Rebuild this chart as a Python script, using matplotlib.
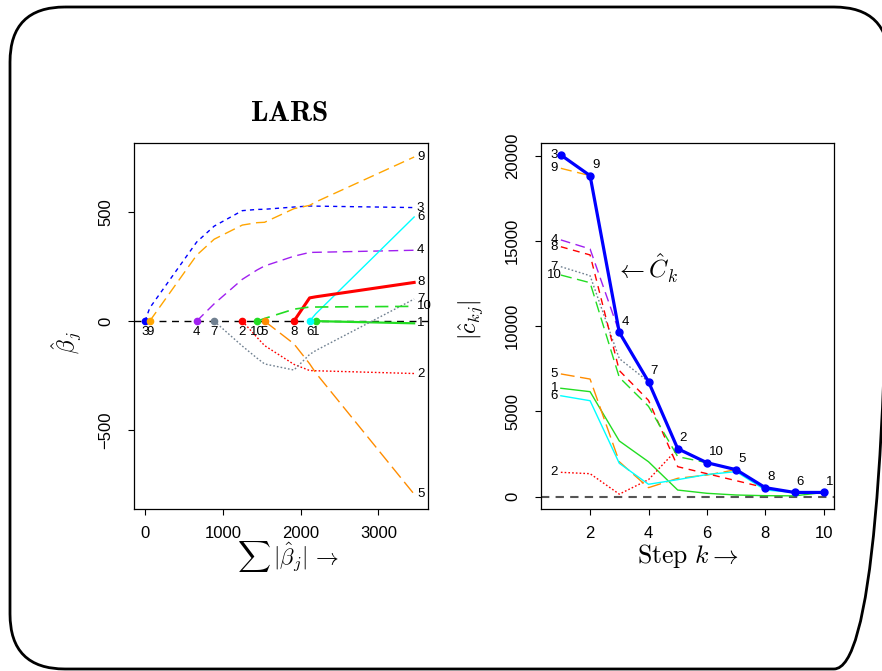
import matplotlib
matplotlib.use("Agg")
import matplotlib.pyplot as plt
import matplotlib.patches as mpatches
import numpy as np

plt.rcParams['font.family'] = ['Liberation Sans', 'DejaVu Sans']
plt.rcParams['mathtext.fontset'] = 'cm'

# ---- left panel: LARS coefficient paths (diabetes data) ----
l1_norm = [0, 60.1, 663.7, 888.9, 1250.7, 1440.8, 1537.1, 1914.6, 2115.8, 2195.6, 3460.0]
beta_1 = [0, 0, 0, 0, 0, 0, 0, 0, 0, 0, -10.0]
beta_2 = [0, 0, 0, 0, 0, -74.9, -112.0, -197.8, -226.1, -227.2, -239.8]
beta_3 = [0, 60.1, 361.9, 434.8, 505.7, 511.3, 512.0, 522.3, 526.9, 526.4, 519.8]
beta_4 = [0, 0, 0, 79.2, 191.3, 234.2, 252.5, 297.2, 314.4, 315.0, 324.4]
beta_5 = [0, 0, 0, 0, 0, 0, 0, -104.0, -195.1, -237.3, -792.2]
beta_6 = [0, 0, 0, 0, 0, 0, 0, 0, 0, 33.6, 476.7]
beta_7 = [0, 0, 0, 0, -114.1, -169.7, -196.0, -223.9, -152.5, -134.6, 101.0]
beta_8 = [0, 0, 0, 0, 0, 0, 0, 0, 106.3, 111.4, 177.1]
beta_9 = [0, 0, 301.8, 374.9, 439.7, 450.7, 452.4, 514.8, 529.9, 545.5, 751.3]
beta_10 = [0, 0, 0, 0, 0, 0, 12.1, 54.8, 64.5, 64.6, 67.6]

# ---- right panel: absolute current correlations |c_kj| ----
steps = [1, 2, 3, 4, 5, 6, 7, 8, 9, 10]
c_hat = [20040, 18830, 9640, 6745, 2815, 1994, 1584, 528, 250, 250]
corr_1 = [6360, 6160, 3270, 2050, 390, 200, 100, 60, 50, 250]
corr_2 = [1430, 1350, 150, 1000, 2815, 1994, 1584, 528, 250, 250]
corr_3 = [20040, 18830, 9640, 6745, 2815, 1994, 1584, 528, 250, 250]
corr_4 = [15060, 14530, 9640, 6745, 2815, 1994, 1584, 528, 250, 250]
corr_5 = [7200, 6900, 2050, 530, 1080, 1270, 1584, 528, 250, 250]
corr_6 = [5920, 5630, 1960, 730, 1000, 1300, 1470, 390, 250, 250]
corr_7 = [13490, 12960, 8100, 6745, 2815, 1994, 1584, 528, 250, 250]
corr_8 = [14660, 14180, 7400, 5650, 1760, 1350, 940, 528, 250, 250]
corr_9 = [19260, 18830, 9640, 6745, 2815, 1994, 1584, 528, 250, 250]
corr_10 = [13000, 12550, 7000, 5300, 2350, 1994, 1584, 528, 250, 250]
entry_order = [3, 9, 4, 7, 2, 10, 5, 8, 6, 1]

betas = [beta_1, beta_2, beta_3, beta_4, beta_5, beta_6, beta_7, beta_8, beta_9, beta_10]
corrs = [corr_1, corr_2, corr_3, corr_4, corr_5, corr_6, corr_7, corr_8, corr_9, corr_10]

colors = ['#22dd22', '#ff0000', '#0000ff', '#a020f0', '#ff8c00',
          '#00ffff', '#708090', '#ff0000', '#ffa500', '#22dd22']
styles = ['-', (0, (1.2, 1.5)), (0, (3, 3)), (0, (7, 4)), (0, (10, 4)),
          '-', (0, (1.2, 1.5)), '-', (0, (8, 4)), (0, (8, 4))]
left_lw = [1.6, 1, 1, 1, 1, 1, 1, 2.2, 1, 1.2]
right_styles = list(styles)
right_styles[7] = (0, (5, 4))

W, H = 882, 671
fig = plt.figure(figsize=(W / 100, H / 100), dpi=100)

def px_box(x0, y0, x1, y1):
    return [x0 / W, 1 - y1 / H, (x1 - x0) / W, (y1 - y0) / H]

def px(x, y):
    return x / W, 1 - y / H

# rounded slide frame (right side runs off the page)
bg = fig.add_axes([0, 0, 1, 1])
bg.set_xlim(0, W)
bg.set_ylim(H, 0)
bg.axis('off')
bg.add_patch(mpatches.FancyBboxPatch((10, 7), 879, 662,
             boxstyle="round,pad=0,rounding_size=55",
             fc='none', ec='black', lw=2.0, clip_on=False))

ax1 = fig.add_axes(px_box(134.3, 143.3, 428.3, 509))
ax2 = fig.add_axes(px_box(541, 143.3, 834.3, 509))

for ax in (ax1, ax2):
    ax.tick_params(direction='out', length=4, width=0.8, labelsize=12)
    ax.tick_params(axis='x', pad=8)
    ax.tick_params(axis='y', pad=11)
    for s in ax.spines.values():
        s.set_linewidth(0.9)

# left panel
ax1.axhline(0, color='black', ls=(0, (5, 4)), lw=1, zorder=1)
for j in range(10):
    b = betas[j]
    first = next(i for i, v in enumerate(b) if v != 0) - 1
    ax1.plot(l1_norm[first:], b[first:], color=colors[j], ls=styles[j],
             lw=left_lw[j], zorder=2)
    ax1.plot(l1_norm[first], 0, 'o', color=colors[j], ms=4.5, zorder=3)
    ax1.annotate(str(j + 1), (l1_norm[first], 0), xytext=(0, -7.5),
                 textcoords='offset points', ha='center', va='center', fontsize=9.5)
    ax1.annotate(str(j + 1), (l1_norm[-1], b[-1]), xytext=(2, 0),
                 textcoords='offset points', ha='left', va='center', fontsize=9.5)
ax1.set_xlim(-138, 3642)
ax1.set_ylim(-860, 814)
ax1.set_xticks([0, 1000, 2000, 3000])
ax1.set_yticks([-500, 0, 500])
plt.setp(ax1.get_yticklabels(), rotation=90, va='center')

# right panel
ax2.axhline(0, color='#555555', ls=(0, (4, 3)), lw=1.5, zorder=1)
for j in range(10):
    ax2.plot(steps, corrs[j], color=colors[j], ls=right_styles[j], lw=1, zorder=2)
    ax2.text(0.78, corrs[j][0], str(j + 1), ha='center', va='center', fontsize=9.5)
ax2.plot(steps, c_hat, color='#0000ff', lw=2.3, zorder=3)
ax2.plot(steps, c_hat, 'o', color='#0000ff', ms=5, zorder=4)
for k, v in enumerate(entry_order):
    if k == 0:
        continue
    ax2.annotate(str(v), (steps[k], c_hat[k]), xytext=(1.5, 7.5),
                 textcoords='offset points', ha='left', va='center', fontsize=9.5)
ax2.text(2.87, 13400, r'$\leftarrow\hat{C}_k$', ha='left', va='center', fontsize=18)
ax2.set_xlim(0.32, 10.36)
ax2.set_ylim(-721, 20727)
ax2.set_xticks([2, 4, 6, 8, 10])
ax2.set_yticks([0, 5000, 10000, 15000, 20000])
plt.setp(ax2.get_yticklabels(), rotation=90, va='center')

# titles and axis labels
fig.text(*px(289, 113), r'$\mathbf{LARS}$', ha='center', va='center', fontsize=21)
fig.text(*px(288, 556), r'$\sum\,|\hat{\beta}_j|\,\rightarrow$', ha='center', va='center', fontsize=16.5)
fig.text(*px(688, 556), r'$\mathrm{Step}\ k\rightarrow$', ha='center', va='center', fontsize=18.5)
fig.text(*px(67, 342), r'$\hat{\beta}_j$', ha='center', va='center', fontsize=17, rotation=90)
fig.text(*px(471, 320), r'$|\hat{c}_{kj}|$', ha='center', va='center', fontsize=17, rotation=90)

fig.savefig('out.png', dpi=100)
